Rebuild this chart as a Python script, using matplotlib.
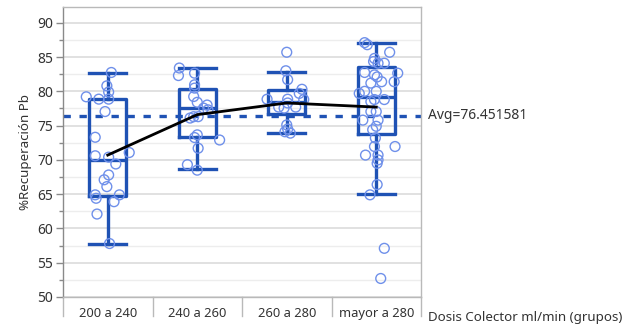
import numpy as np
import matplotlib.pyplot as plt
from matplotlib.ticker import MultipleLocator
from matplotlib.transforms import blended_transform_factory

plt.rcParams['font.family'] = ['Noto Sans', 'DejaVu Sans']

# === Data ===
categories = ["200 a 240", "240 a 260", "260 a 280", "mayor a 280"]

# box statistics per group
q1 = [64.7, 73.3, 76.7, 73.8]
med = [70.0, 77.5, 78.5, 79.2]
q3 = [78.9, 80.4, 80.2, 83.6]
whis_lo = [57.8, 68.6, 73.9, 65.0]
whis_hi = [82.7, 83.4, 82.8, 87.1]

# group means (connected by the black line)
means = [70.7, 76.6, 78.3, 77.7]
overall_avg = 76.451581

# individual observations
vals_g1 = [82.75, 80.8, 79.9, 79.2, 78.86, 78.86, 77.05, 73.3, 70.6, 70.4, 71.07,
           69.4, 67.8, 67.1, 66.1, 64.9, 64.4, 64.9, 63.9, 62.1, 57.8]
vals_g2 = [83.4, 82.3, 82.65, 80.95, 80.47, 79.24, 78.4, 78.0, 77.55, 77.3, 76.3,
           76.1, 76.3, 73.65, 73.26, 72.9, 71.7, 69.3, 68.5]
vals_g3 = [85.7, 83.0, 81.7, 80.3, 79.7, 78.85, 78.85, 78.8, 77.7, 77.7, 77.55,
           74.5, 73.9, 74.1, 78.3, 75.1]
vals_g4 = [87.1, 86.8, 85.7, 84.8, 84.35, 84.1, 84.1, 82.75, 82.65, 82.4, 81.2,
           81.4, 81.4, 79.7, 80.0, 80.0, 78.8, 78.8, 78.5, 77.05, 77.05, 75.8,
           75.8, 74.9, 74.4, 73.2, 71.95, 71.95, 70.7, 70.7, 70.0, 82.1, 69.5,
           66.4, 64.9, 57.1, 52.7]

# horizontal jitter of each observation (fraction of a category width)
jit_g1 = [0.04, -0.01, 0.01, -0.24, -0.10, 0.01, -0.03, -0.14, -0.14, 0.01, 0.24,
          0.09, 0.01, -0.04, -0.01, -0.14, -0.13, 0.13, 0.07, -0.12, 0.02]
jit_g2 = [-0.20, -0.21, -0.03, -0.03, -0.03, -0.04, 0.00, 0.11, 0.07, 0.12, -0.04,
          -0.08, 0.01, 0.00, -0.03, 0.25, 0.01, -0.11, 0.00]
jit_g3 = [0.00, -0.01, 0.01, 0.17, 0.14, -0.22, 0.01, 0.19, 0.10, -0.09, -0.03,
          0.01, 0.04, -0.02, 0.01, 0.00]
jit_g4 = [-0.13, -0.10, 0.15, -0.02, -0.03, 0.09, 0.02, -0.13, 0.24, -0.02, -0.06,
          0.06, 0.20, -0.19, -0.13, 0.00, -0.02, 0.09, -0.06, -0.06, 0.00, -0.15,
          0.02, 0.00, -0.04, -0.01, -0.02, 0.21, -0.12, 0.02, 0.02, 0.01, 0.01,
          0.01, -0.07, 0.09, 0.05]

values = [vals_g1, vals_g2, vals_g3, vals_g4]
jitter = [jit_g1, jit_g2, jit_g3, jit_g4]

# === Styling ===
box_col = "#1f52b4"
pt_col = "#6f90ea"
grid_major = "#d9d9d9"
grid_minor = "#ededed"
frame_col = "#b9b9b9"
txt_col = "#333333"

fig = plt.figure(figsize=(6.33, 3.26), dpi=100)
ax = fig.add_axes([63 / 633, 29 / 326, (421 - 63) / 633, (297 - 7) / 326])

pos = np.arange(len(categories))

# grid
ax.yaxis.set_major_locator(MultipleLocator(5))
ax.yaxis.set_minor_locator(MultipleLocator(2.5))
ax.grid(True, which='major', axis='y', color=grid_major, lw=1.1, zorder=0)
ax.grid(True, which='minor', axis='y', color=grid_minor, lw=1.0, zorder=0)
ax.set_axisbelow(True)

# boxes
stats = [dict(q1=q1[i], med=med[i], q3=q3[i], whislo=whis_lo[i], whishi=whis_hi[i],
              fliers=[]) for i in range(len(categories))]
line_kw = dict(color=box_col, lw=2.4)
ax.bxp(stats, positions=pos, widths=0.41, showfliers=False, capwidths=0.41,
       boxprops=line_kw, whiskerprops=line_kw, capprops=line_kw, medianprops=line_kw,
       manage_ticks=False, zorder=3)

# points
for i, (v, j) in enumerate(zip(values, jitter)):
    ax.scatter(pos[i] + np.array(j), v, s=50, facecolors='none', edgecolors=pt_col,
               linewidths=1.0, zorder=4)

# overall average
ax.axhline(overall_avg, color=box_col, lw=2.4, ls=(0, (2.2, 2.6)), zorder=2)
tr = blended_transform_factory(ax.transAxes, ax.transData)
ax.text(1 + 7 / 358, overall_avg, f"Avg={overall_avg:.6f}", transform=tr,
        ha='left', va='center', fontsize=10, color=txt_col, clip_on=False)

# group means
ax.plot(pos, means, color='black', lw=2.0, zorder=5)

ax.set_xlim(-0.5, 3.5)
ax.set_ylim(50, 92.3)

# frame
for s in ax.spines.values():
    s.set_color(frame_col)
    s.set_linewidth(1.0)
ax.spines['left'].set_color('#8a8a8a')

ax.tick_params(axis='y', which='major', length=5, width=1, color='#8a8a8a',
               labelsize=10, labelcolor=txt_col, pad=2)
ax.tick_params(axis='y', which='minor', length=3, width=1, color='#8a8a8a')

# category labels with separators
ax.set_xticks(pos)
ax.set_xticklabels(categories, fontsize=9.3, color=txt_col)
ax.tick_params(axis='x', length=0, pad=7)
trx = blended_transform_factory(ax.transData, ax.transAxes)
for xb in np.arange(-0.5, 4.0, 1.0):
    ax.plot([xb, xb], [0, -0.065], transform=trx, color=frame_col, lw=1.0,
            clip_on=False)

ax.set_ylabel("%Recuperación Pb", fontsize=9.6, color=txt_col, labelpad=4)
fig.text(428 / 633, 1 - 318 / 326, "Dosis Colector ml/min (grupos)", fontsize=9.6,
         color=txt_col, ha='left', va='center')

fig.savefig("out.png", dpi=100)
